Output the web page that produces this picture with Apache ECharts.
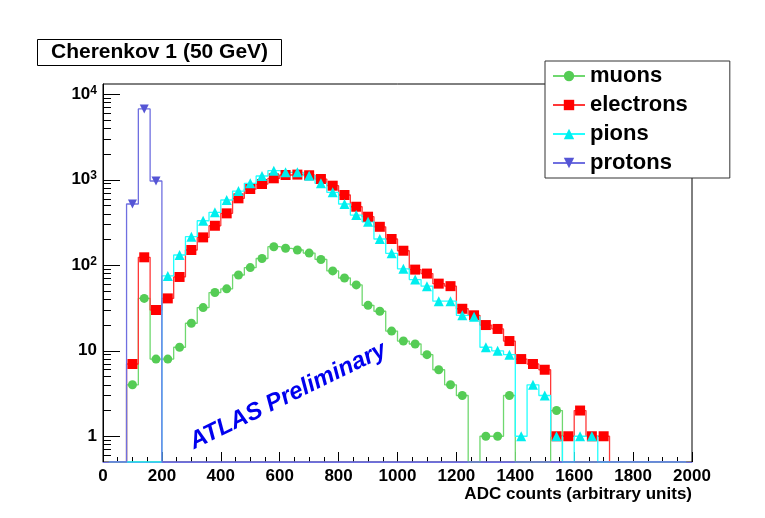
<!DOCTYPE html>
<html>
<head>
<meta charset="utf-8">
<script src="https://cdn.jsdelivr.net/npm/echarts@6/dist/echarts.min.js"></script>
<style>
html,body{margin:0;padding:0;background:#fff;}
#chart{width:765px;height:518px;}
</style>
</head>
<body>
<div id="chart"></div>
<script>
// ---- data (histogram, 50 bins of width 40 from 0 to 2000) ----
const binCenters = [20,60,100,140,180,220,260,300,340,380,420,460,500,540,580,620,660,700,740,780,
  820,860,900,940,980,1020,1060,1100,1140,1180,1220,1260,1300,1340,1380,1420,1460,1500,1540,1580,
  1620,1660,1700,1740,1780,1820,1860,1900,1940,1980];
const muons = [0,0,4,41,8,8,11,21,32,48,53,77,94,120,165,158,151,139,117,86,
  71,59,34,29,17,13,12,9,6,4,3,0,1,1,3,0,0,0,2,0,
  0,0,0,0,0,0,0,0,0,0];
const electrons = [0,0,7,124,30,41,73,151,212,290,405,607,780,893,1041,1138,1150,1130,1021,853,
  664,484,370,282,203,148,89,80,61,57,31,26,20,18,13,8,7,6,1,1,
  2,1,1,0,0,0,0,0,0,0];
const pions = [0,0,0,0,0,75,132,216,332,416,580,739,910,1108,1279,1223,1223,1117,910,714,
  521,387,323,203,138,91,68,57,38,38,26,25,11,10,9,1,4,3,1,0,
  1,1,0,0,0,0,0,0,0,0];
const protons = [0,0,521,6745,968,0,0,0,0,0,0,0,0,0,0,0,0,0,0,0,
  0,0,0,0,0,0,0,0,0,0,0,0,0,0,0,0,0,0,0,0,
  0,0,0,0,0,0,0,0,0,0];
const seriesNames = ['muons','electrons','pions','protons'];
const xTickLabels = [0,200,400,600,800,1000,1200,1400,1600,1800,2000];
const yMajorTicks = [1,10,100,1000,10000];
const yMinorTicks = [0.6,0.7,0.8,0.9,2,3,4,5,6,7,8,9,20,30,40,50,60,70,80,90,
  200,300,400,500,600,700,800,900,2000,3000,4000,5000,6000,7000,8000,9000];

const Y_MIN = 0.5, Y_MAX = 13200;
const FONT = '"Liberation Sans", Arial, Helvetica, sans-serif';

const styles = [
  {line:'#6fd86f', mark:'#55cc55', symbol:'circle', size:9},
  {line:'#ff3838', mark:'#ff0000', symbol:'rect', size:10},
  {line:'#22ffff', mark:'#00eeee', symbol:'triangle', size:10},
  {line:'#6f6fe0', mark:'#5555d5', symbol:'path://M0,0 L10,0 L5,9 Z', size:9}
];
const allValues = [muons, electrons, pions, protons];

const series = allValues.map((vals, i) => ({
  name: seriesNames[i],
  type: 'line',
  step: 'middle',
  xAxisIndex: 0,
  yAxisIndex: 0,
  symbol: styles[i].symbol,
  symbolSize: styles[i].size,
  showSymbol: true,
  lineStyle: {color: styles[i].line, width: 1.3},
  itemStyle: {color: styles[i].mark},
  emphasis: {disabled: true},
  data: vals.map((v, k) => v > 0
    ? {value: [binCenters[k], v]}
    : {value: [binCenters[k], Y_MIN], symbol: 'none'})
}));

const chart = echarts.init(document.getElementById('chart'), null, {renderer: 'canvas'});
chart.setOption({
  animation: false,
  backgroundColor: '#fff',
  textStyle: {fontFamily: FONT},
  title: {
    text: 'Cherenkov 1 (50 GeV)',
    left: 37, top: 39,
    padding: [3, 14, 3, 14],
    borderColor: '#000', borderWidth: 1,
    backgroundColor: '#fff',
    textStyle: {fontFamily: FONT, fontWeight: 'bold', fontSize: 21, color: '#000', lineHeight: 21}
  },
  legend: {
    data: seriesNames,
    orient: 'vertical',
    left: 545, top: 61,
    padding: [4, 42, 4, 7],
    itemGap: 7,
    itemWidth: 32, itemHeight: 13,
    backgroundColor: '#fff',
    borderColor: '#333', borderWidth: 1,
    selectedMode: false,
    textStyle: {fontFamily: FONT, fontWeight: 'bold', fontSize: 22, color: '#000', lineHeight: 22}
  },
  grid: {left: 103, right: 73, top: 84, bottom: 56, show: true, borderColor: '#000', borderWidth: 1,
         containLabel: false, outerBoundsMode: 'none'},
  xAxis: {
    type: 'value', min: 0, max: 2000, interval: 200,
    name: 'ADC counts (arbitrary units)',
    nameLocation: 'end', nameGap: 0,
    nameTextStyle: {fontFamily: FONT, fontWeight: 'bold', fontSize: 17, color: '#000',
                    align: 'right', verticalAlign: 'top', padding: [24, 0, 0, 0]},
    axisLine: {show: true, lineStyle: {color: '#6f6fe0', width: 1}},
    axisTick: {show: true, inside: true, length: 10, lineStyle: {color: '#000'}},
    minorTick: {show: true, splitNumber: 4, length: 5, lineStyle: {color: '#000'}},
    axisLabel: {fontFamily: FONT, fontWeight: 'bold', fontSize: 17, color: '#000', margin: 6,
                customValues: xTickLabels, formatter: function (v) { return String(v); }},
    splitLine: {show: false}
  },
  yAxis: [{
    type: 'log', logBase: 10, min: Y_MIN, max: Y_MAX,
    axisLine: {show: true, lineStyle: {color: '#000'}},
    axisTick: {show: true, inside: true, length: 17, customValues: yMajorTicks, lineStyle: {color: '#000'}},
    minorTick: {show: false},
    axisLabel: {
      customValues: yMajorTicks,
      margin: 6,
      fontFamily: FONT, fontWeight: 'bold', fontSize: 17, color: '#000',
      formatter: function (v) {
        const e = Math.round(Math.log10(v));
        if (e === 0) return '1';
        if (e === 1) return '10';
        return '10{s|' + e + '}';
      },
      rich: {s: {fontFamily: FONT, fontWeight: 'bold', fontSize: 12, color: '#000', verticalAlign: 'top', padding: [0, 0, 8, 0]}}
    },
    splitLine: {show: false}
  }, {
    type: 'log', logBase: 10, min: Y_MIN, max: Y_MAX, position: 'left',
    axisLine: {show: false},
    axisTick: {show: true, inside: true, length: 8, customValues: yMinorTicks, lineStyle: {color: '#000'}},
    axisLabel: {show: false},
    splitLine: {show: false}
  }],
  graphic: [{
    type: 'text',
    x: 288, y: 396,
    rotation: 26 * Math.PI / 180,
    style: {
      text: 'ATLAS Preliminary',
      font: 'italic bold 24px ' + FONT,
      fill: '#0000ee',
      align: 'center', verticalAlign: 'middle'
    },
    z: 10
  }],
  series: series
});
</script>
</body>
</html>
